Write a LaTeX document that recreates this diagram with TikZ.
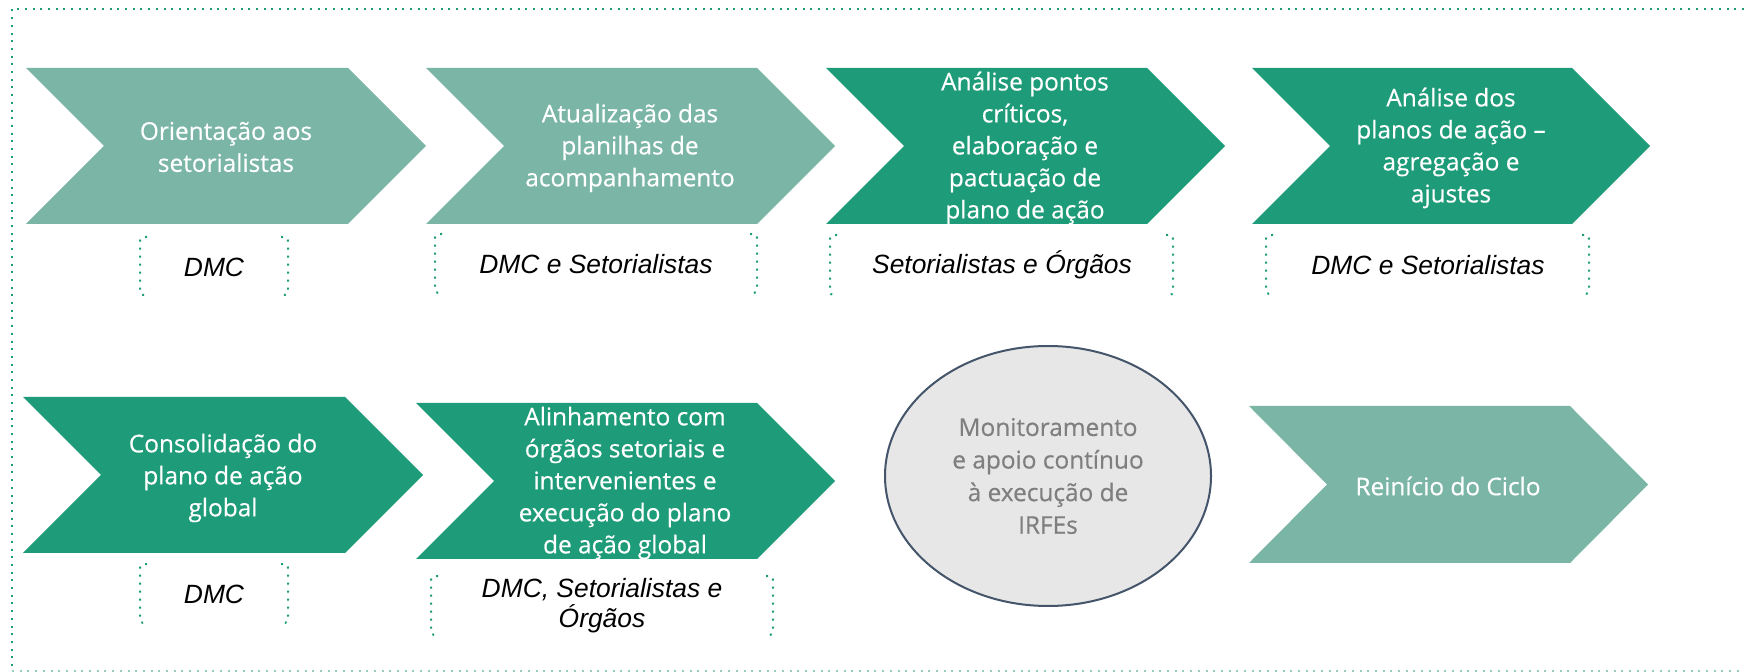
\documentclass[tikz,border=0pt]{standalone}
\usepackage{fontspec}
\setmainfont{Open Sans}
\newfontfamily\etapafont{Open Sans}[FakeBold=0.45]
\newfontfamily\arialfont{Liberation Sans}
\usepackage{tikz}
\usetikzlibrary{shapes.geometric}
\definecolor{verdeclaro}{RGB}{122,181,165}
\definecolor{verdeescuro}{RGB}{30,155,120}
\definecolor{verdefraco}{RGB}{150,205,190}
\definecolor{cinzaelipse}{RGB}{231,231,231}
\definecolor{bordaelipse}{RGB}{68,84,106}
\definecolor{cinzatexto}{RGB}{127,127,127}
\tikzset{
etapa/.style={align=center,text=white,font=\etapafont\fontsize{12.2}{16}\selectfont},
resp/.style={align=center,text=black,font=\arialfont\itshape\fontsize{13.2}{15}\selectfont},
chave/.style={draw=verdeescuro,line width=1pt,dash pattern=on 1pt off 3pt},
moldura/.style={draw=verdeescuro,line width=1pt,dash pattern=on 1pt off 2.85pt}
}

\begin{document}
\begin{tikzpicture}[x=0.5pt,y=-0.5pt]
\useasboundingbox(0,0)rectangle(1744,672);
% moldura
\draw[moldura](1744,9)--(12,9)--(12,671);
\draw[moldura,draw=verdefraco](12,671)--(1744,671);
% primeira linha
\fill[verdeclaro](26,68)--(348,68)--(426,146)--(348,224)--(26,224)--(104,146)--cycle;
\fill[verdeclaro](426,68)--(757,68)--(835,146)--(757,224)--(426,224)--(504,146)--cycle;
\fill[verdeescuro](826,68)--(1147,68)--(1225,146)--(1147,224)--(826,224)--(904,146)--cycle;
\fill[verdeescuro](1252,68)--(1572,68)--(1650,146)--(1572,224)--(1252,224)--(1330,146)--cycle;
\node[etapa](orient)at(226,147){Orientação aos\\setorialistas};
\node[etapa](atual)at(630,148){Atualização das\\planilhas de\\acompanhamento};
\node[etapa](critic)at(1025,148){Análise pontos\\críticos,\\elaboração e\\pactuação de\\plano de ação};
\node[etapa](planos)at(1451,148){Análise dos\\planos de ação –\\agregação e\\ajustes};
\node[resp](dmc1)at(214,267){DMC};
\node[resp](dmcset1)at(596,264){DMC e Setorialistas};
\node[resp](setorg)at(1002,265){Setorialistas e Órgãos};
\node[resp](dmcset2)at(1428,265){DMC e Setorialistas};
\draw[chave](147,237)..controls(140,237)..(140,245)--(140,287)..controls(140,295)..(147,295)(281,237)..controls(288,237)..(288,245)--(288,287)..controls(288,295)..(281,295);
\draw[chave](442,234)..controls(435,234)..(435,242)--(435,285)..controls(435,293)..(442,293)(750,234)..controls(757,234)..(757,242)--(757,285)..controls(757,293)..(750,293);
\draw[chave](837,235)..controls(830,235)..(830,243)--(830,287)..controls(830,295)..(837,295)(1166,235)..controls(1173,235)..(1173,243)--(1173,287)..controls(1173,295)..(1166,295);
\draw[chave](1273,235)..controls(1266,235)..(1266,243)--(1266,286)..controls(1266,294)..(1273,294)(1582,235)..controls(1589,235)..(1589,243)--(1589,286)..controls(1589,294)..(1582,294);
% segunda linha
\fill[verdeescuro](23,397)--(345,397)--(423,475)--(345,553)--(23,553)--(101,475)--cycle;
\fill[verdeescuro](416,403)--(757,403)--(835,481)--(757,559)--(416,559)--(494,481)--cycle;
\fill[verdeclaro](1249,406)--(1570,406)--(1648,484.5)--(1570,563)--(1249,563)--(1327,484.5)--cycle;
\node[etapa](consol)at(223,478){Consolidação do\\plano de ação\\global};
\node[etapa](alinh)at(625,483){Alinhamento com\\órgãos setoriais e\\intervenientes e\\execução do plano\\de ação global};
\node[ellipse,draw=bordaelipse,fill=cinzaelipse,line width=1pt,minimum width=163pt,minimum height=130pt,inner sep=0pt,align=center,text=cinzatexto,font=\etapafont\fontsize{12.2}{16.3}\selectfont](monit)at(1048,476){Monitoramento\\e apoio contínuo\\à execução de\\IRFEs};
\node[etapa](reinicio)at(1448,486){Reinício do Ciclo};
\node[resp](dmc2)at(214,594){DMC};
\node[resp](dmcsetorg)at(602,606){DMC, Setorialistas e\\Órgãos};
\draw[chave](147,564)..controls(140,564)..(140,572)--(140,615)..controls(140,623)..(147,623)(281,564)..controls(288,564)..(288,572)--(288,615)..controls(288,623)..(281,623);
\draw[chave](438,576)..controls(431,576)..(431,584)--(431,627)..controls(431,635)..(438,635)(766,576)..controls(773,576)..(773,584)--(773,627)..controls(773,635)..(766,635);
\end{tikzpicture}
\end{document}
